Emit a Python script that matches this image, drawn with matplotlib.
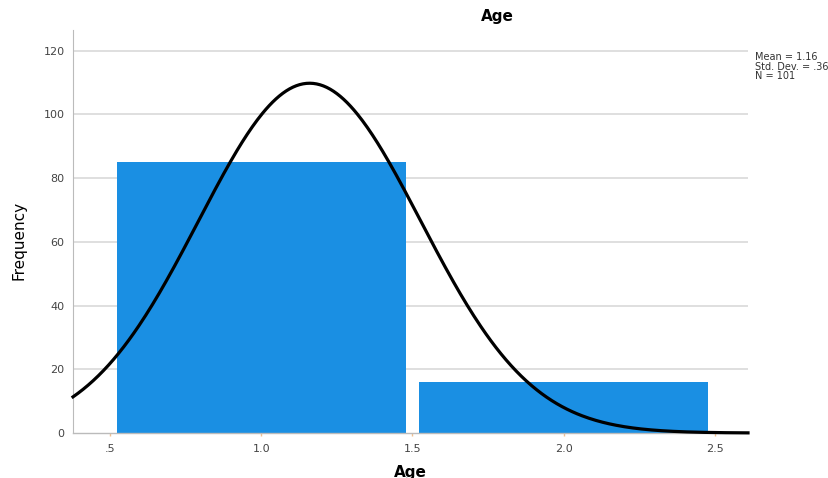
import numpy as np
import matplotlib
matplotlib.use("Agg")
import matplotlib.pyplot as plt

categories = [1.0, 2.0]
counts = [85, 16]
bar_width = 0.955
mean = 1.16
std = 0.367
n = 101
x_ticks = [0.5, 1.0, 1.5, 2.0, 2.5]
x_tick_labels = [".5", "1.0", "1.5", "2.0", "2.5"]
y_ticks = [0, 20, 40, 60, 80, 100, 120]

fig = plt.figure(figsize=(8.29, 4.78), dpi=100)
ax = fig.add_axes([73/829, 1-433/478, (748-73)/829, (433-30)/478])

xmin, xmax = 0.378, 2.609
ax.set_xlim(xmin, xmax)
ax.set_ylim(0, 126.5)
for y in y_ticks[1:]:
    ax.axhline(y, color="#dcdcdc", lw=1.3, zorder=0)
ax.bar(categories, counts, width=bar_width, color="#1a8fe3", zorder=2)

xs = np.linspace(xmin, xmax, 400)
ys = n * 1.0 / (std * np.sqrt(2*np.pi)) * np.exp(-0.5*((xs-mean)/std)**2)
ax.plot(xs, ys, color="black", lw=2.3, zorder=3, clip_on=False)

ax.set_xticks(x_ticks)
ax.set_xticklabels(x_tick_labels)
ax.set_yticks(y_ticks)
ax.tick_params(axis="y", length=0, labelsize=8, colors="#444444", pad=6)
ax.tick_params(axis="x", length=2, width=1, color="#f0c090", labelsize=8,
               labelcolor="#444444", pad=6)
for s in ["top", "right"]:
    ax.spines[s].set_visible(False)
ax.spines["left"].set_color("#bbbbbb")
ax.spines["bottom"].set_color("#bbbbbb")
ax.spines["bottom"].set_linewidth(1.0)

fig.text(19/829, 1-240/478, "Frequency", rotation=90, ha="center", va="center", fontsize=11)
fig.text(497/829, 1-16/478, "Age", ha="center", va="center", fontsize=11, fontweight="bold")
fig.text(410/829, 1-473/478, "Age", ha="center", va="center", fontsize=11, fontweight="bold")
fig.text(755/829, 1-52/478, "Mean = 1.16\nStd. Dev. = .367\nN = 101", ha="left", va="top",
         fontsize=7, linespacing=0.95, color="#333333")

fig.savefig("out.png", dpi=100)
